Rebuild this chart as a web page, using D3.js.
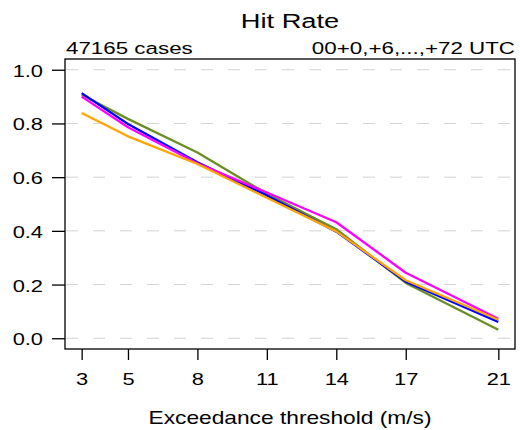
<!DOCTYPE html>
<html>
  <head>
    <style>
      body { margin: 0; background: #fff; }
      text { font-family: "Liberation Sans", Arial, sans-serif; fill: #000; }
      .grid line { stroke: #d3d3d3; stroke-width: 1px; stroke-dasharray: 12,15; }
      .series { fill: none; stroke-width: 2.3px; stroke-linejoin: round; }
    </style>
  </head>
  <body>
    <svg width="520" height="430"></svg>
    <script src="https://d3js.org/d3.v7.min.js"></script>
    <script>
      // exceedance thresholds (m/s)
      const thresholds = [3, 5, 8, 11, 14, 17, 21];
      const yTicks = [0.0, 0.2, 0.4, 0.6, 0.8, 1.0];

      const olive = [0.907, 0.817, 0.692, 0.538, 0.406, 0.206, 0.032];
      const blue = [0.913, 0.798, 0.655, 0.532, 0.397, 0.211, 0.061];
      const magenta = [0.900, 0.786, 0.652, 0.543, 0.432, 0.244, 0.073];
      const orange = [0.839, 0.752, 0.649, 0.523, 0.398, 0.216, 0.069];

      const series = [
        { color: '#6B8E23', values: olive },
        { color: '#0000FF', values: blue },
        { color: '#FF00FF', values: magenta },
        { color: '#FFA500', values: orange }
      ];

      const svg = d3.select('svg');
      const plotLeft = 65, plotRight = 515, plotTop = 59, plotBottom = 349;
      const sx = 1.3; // text in the reference is stretched sideways

      const x = d3.scaleLinear().domain([2.28, 21.72]).range([plotLeft, plotRight]);
      const y = d3.scaleLinear().domain([-0.04, 1.04]).range([plotBottom, plotTop]);

      function label(sel, px, py, size, anchor) {
        return sel.append('text')
          .attr('transform', 'translate(' + px + ',' + py + ') scale(' + sx + ',1)')
          .attr('font-size', size)
          .attr('text-anchor', anchor);
      }

      // grid
      svg.append('g')
        .attr('class', 'grid')
        .selectAll('line')
        .data(yTicks)
        .enter()
        .append('line')
        .attr('x1', plotLeft + 1)
        .attr('x2', plotRight)
        .attr('y1', d => y(d))
        .attr('y2', d => y(d));

      // lines
      const line = d3.line()
        .x((d, i) => x(thresholds[i]))
        .y(d => y(d));

      svg.append('g')
        .selectAll('path')
        .data(series)
        .enter()
        .append('path')
        .attr('class', 'series')
        .attr('stroke', d => d.color)
        .attr('d', d => line(d.values));

      // frame
      svg.append('rect')
        .attr('x', plotLeft)
        .attr('y', plotTop)
        .attr('width', plotRight - plotLeft)
        .attr('height', plotBottom - plotTop)
        .attr('fill', 'none')
        .attr('stroke', '#000')
        .attr('stroke-width', 1.3);

      // y axis
      const yAxis = svg.append('g')
        .attr('transform', 'translate(' + plotLeft + ',0)')
        .call(d3.axisLeft(y).tickValues(yTicks).tickSize(13));
      yAxis.select('.domain').remove();
      yAxis.selectAll('.tick line').attr('stroke-width', 1.3);
      yAxis.selectAll('.tick text').remove();
      yAxis.selectAll('.tick').each(function(d) {
        label(d3.select(this), -22, 6.5, 16.8, 'end').text(d3.format('.1f')(d));
      });

      // x axis
      const xAxis = svg.append('g')
        .attr('transform', 'translate(0,' + plotBottom + ')')
        .call(d3.axisBottom(x).tickValues(thresholds).tickSize(11));
      xAxis.select('.domain').remove();
      xAxis.selectAll('.tick line').attr('stroke-width', 1.3);
      xAxis.selectAll('.tick text').remove();
      xAxis.selectAll('.tick').each(function(d) {
        label(d3.select(this), 0, 36, 16.8, 'middle').text(d);
      });

      // titles
      label(svg, 290, 28, 21, 'middle').text('Hit Rate');
      label(svg, 66, 54, 17.2, 'start').text('47165 cases');
      label(svg, 515, 54, 17.2, 'end').text('00+0,+6,...,+72 UTC');
      label(svg, 290, 424, 17.5, 'middle').text('Exceedance threshold (m/s)');
    </script>
  </body>
</html>
